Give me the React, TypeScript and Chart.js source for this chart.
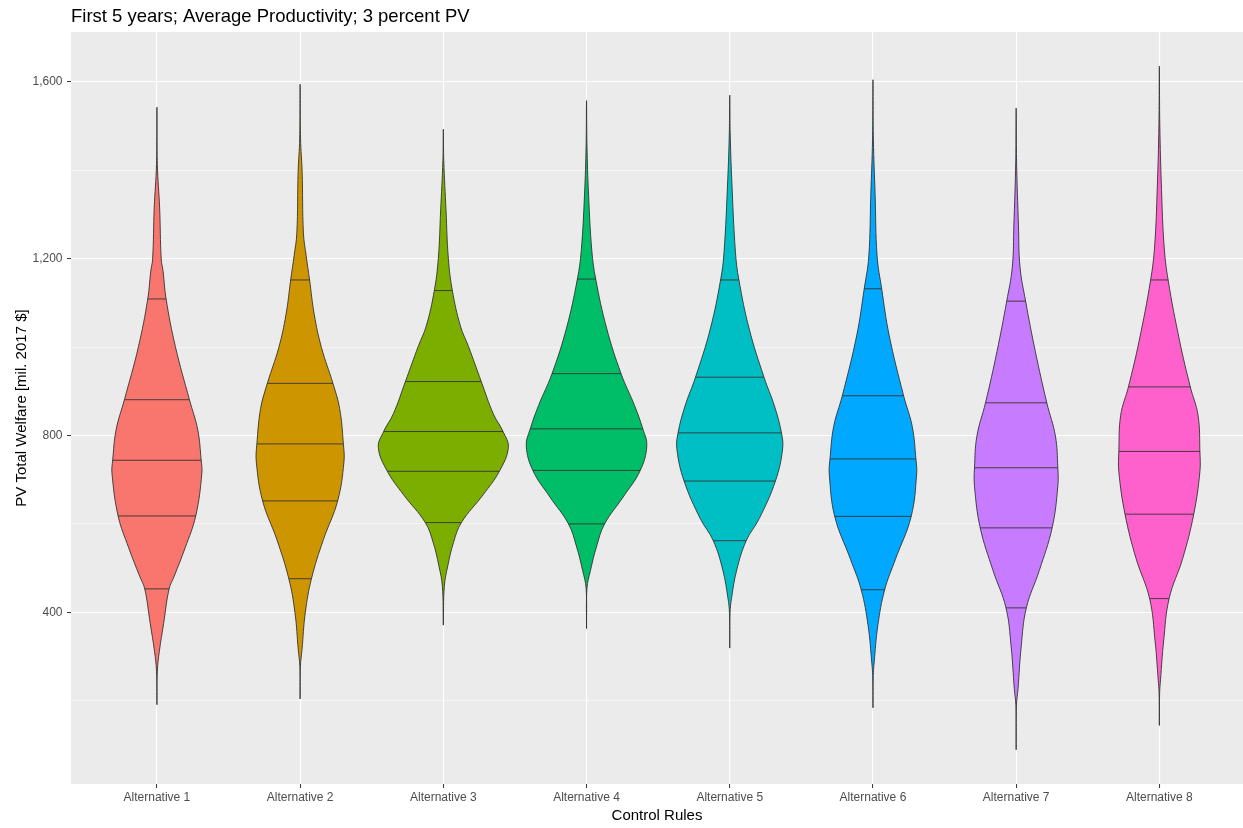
import React, { useEffect, useRef } from 'react';
import { Chart, registerables } from 'chart.js';

Chart.register(...registerables);

const categories = [
  'Alternative 1', 'Alternative 2', 'Alternative 3', 'Alternative 4',
  'Alternative 5', 'Alternative 6', 'Alternative 7', 'Alternative 8',
];

const fillColors = ['#F8766D', '#CD9600', '#7CAE00', '#00BE67', '#00BFC4', '#00A9FF', '#C77CFF', '#FF61CC'];

// Density outline of each violin: PV values (bottom to top) and half-widths (in category units)
const profileValues: number[][] = [
  [191, 267, 312, 375, 453, 482, 545, 618, 715, 744, 813, 881, 1001, 1109, 1172, 1199, 1315, 1413, 1543],
  [204, 278, 315, 399, 476, 565, 652, 740, 781, 861, 918, 999, 1073, 1152, 1207, 1258, 1397, 1471, 1595],
  [371, 459, 505, 558, 603, 666, 719, 773, 809, 849, 922, 1002, 1048, 1128, 1201, 1308, 1423, 1493],
  [363, 454, 494, 550, 600, 661, 721, 777, 815, 868, 940, 1043, 1154, 1218, 1346, 1457, 1558],
  [319, 398, 431, 496, 562, 612, 697, 769, 806, 867, 932, 1041, 1152, 1214, 1379, 1486, 1570],
  [184, 257, 285, 370, 451, 520, 617, 713, 747, 821, 890, 1027, 1132, 1206, 1346, 1469, 1605],
  [89, 189, 227, 322, 410, 494, 591, 685, 727, 799, 874, 990, 1104, 1181, 1276, 1419, 1541],
  [144, 218, 247, 335, 431, 522, 622, 718, 764, 846, 910, 1013, 1152, 1229, 1357, 1504, 1636],
];

const profileHalfWidths: number[][] = [
  [0, 0.003, 0.017, 0.047, 0.085, 0.121, 0.196, 0.271, 0.314, 0.309, 0.285, 0.227, 0.129, 0.064, 0.043, 0.030, 0.019, 0.003, 0],
  [0, 0.002, 0.013, 0.036, 0.079, 0.163, 0.262, 0.306, 0.302, 0.276, 0.229, 0.149, 0.099, 0.066, 0.042, 0.023, 0.014, 0.003, 0],
  [0, 0.007, 0.031, 0.071, 0.126, 0.278, 0.391, 0.454, 0.417, 0.349, 0.265, 0.175, 0.119, 0.063, 0.035, 0.019, 0.003, 0],
  [0, 0.003, 0.027, 0.071, 0.126, 0.256, 0.375, 0.421, 0.393, 0.335, 0.241, 0.140, 0.064, 0.037, 0.014, 0.003, 0],
  [0, 0.002, 0.012, 0.049, 0.115, 0.206, 0.319, 0.369, 0.361, 0.312, 0.239, 0.136, 0.064, 0.040, 0.014, 0.003, 0],
  [0, 0.002, 0.008, 0.034, 0.082, 0.157, 0.267, 0.305, 0.300, 0.274, 0.214, 0.113, 0.061, 0.029, 0.015, 0.003, 0],
  [0, 0.002, 0.013, 0.035, 0.071, 0.161, 0.251, 0.291, 0.291, 0.274, 0.214, 0.134, 0.066, 0.027, 0.016, 0.003, 0],
  [0, 0.002, 0.008, 0.030, 0.068, 0.163, 0.240, 0.283, 0.283, 0.270, 0.216, 0.142, 0.061, 0.033, 0.015, 0.003, 0],
];

// Quantile lines drawn across each violin
const quantileValues: number[][] = [
  [453, 618, 744, 881, 1109],
  [476, 652, 781, 918, 1152],
  [603, 719, 809, 922, 1128],
  [600, 721, 815, 940, 1154],
  [562, 697, 806, 932, 1152],
  [451, 617, 747, 890, 1132],
  [410, 591, 727, 874, 1104],
  [431, 622, 764, 910, 1152],
];

const quantileHalfWidths: number[][] = [
  [0.085, 0.271, 0.309, 0.227, 0.064],
  [0.079, 0.262, 0.302, 0.229, 0.066],
  [0.126, 0.391, 0.417, 0.265, 0.063],
  [0.126, 0.375, 0.393, 0.241, 0.064],
  [0.115, 0.319, 0.361, 0.239, 0.064],
  [0.082, 0.267, 0.300, 0.214, 0.061],
  [0.071, 0.251, 0.291, 0.214, 0.066],
  [0.068, 0.240, 0.283, 0.216, 0.061],
];

const yTickValues = [200, 400, 600, 800, 1000, 1200, 1400, 1600];
const yMajorStep = 400;

const titleText = 'First 5 years; Average Productivity; 3 percent PV';
const xTitle = 'Control Rules';
const yTitle = 'PV Total Welfare [mil. 2017 $]';

const FONT = '"Liberation Sans", Arial, Helvetica, sans-serif';

const panelPlugin = {
  id: 'panelBg',
  beforeDraw(chart: any) {
    const { ctx, chartArea: a, width, height } = chart;
    ctx.save();
    ctx.fillStyle = '#FFFFFF';
    ctx.fillRect(0, 0, width, height);
    ctx.fillStyle = '#EBEBEB';
    ctx.fillRect(a.left, a.top, a.right - a.left, a.bottom - a.top);
    ctx.restore();
  },
};

export default function App() {
  const canvasRef = useRef<HTMLCanvasElement | null>(null);

  useEffect(() => {
    if (!canvasRef.current) return;
    const datasets: any[] = [];
    categories.forEach((_, i) => {
      const cx = i + 1;
      const vals = profileValues[i];
      const ws = profileHalfWidths[i];
      const pts: { x: number; y: number }[] = [];
      for (let k = 0; k < vals.length; k++) pts.push({ x: cx + ws[k], y: vals[k] });
      for (let k = vals.length - 2; k >= 0; k--) pts.push({ x: cx - ws[k], y: vals[k] });
      datasets.push({
        data: pts,
        fill: 'shape',
        backgroundColor: fillColors[i],
        borderColor: '#333333',
        borderWidth: 0.9,
        pointRadius: 0,
        tension: 0.4,
        order: 2,
      });
      quantileValues[i].forEach((q, k) => {
        const hw = quantileHalfWidths[i][k];
        datasets.push({
          data: [
            { x: cx - hw, y: q },
            { x: cx + hw, y: q },
          ],
          fill: false,
          borderColor: '#333333',
          borderWidth: 0.9,
          pointRadius: 0,
          tension: 0,
          order: 1,
        });
      });
    });

    const chart = new Chart(canvasRef.current, {
      type: 'line',
      data: { datasets },
      plugins: [panelPlugin],
      options: {
        animation: false,
        responsive: false,
        devicePixelRatio: 1,
        layout: { padding: 0 },
        plugins: {
          legend: { display: false },
          tooltip: { enabled: false },
          title: {
            display: true,
            text: titleText,
            align: 'start',
            fullSize: false,
            color: '#000000',
            font: { family: FONT, size: 18.5, weight: 'normal', lineHeight: 1.2 },
            padding: { top: 6, bottom: 3.8 },
          },
        },
        scales: {
          x: {
            type: 'linear',
            min: 0.4,
            max: 8.584,
            afterBuildTicks: (scale: any) => {
              scale.ticks = categories.map((_, i) => ({ value: i + 1 }));
            },
            afterFit: (scale: any) => {
              scale.height = 44;
            },
            border: { display: false },
            grid: {
              color: '#FFFFFF',
              lineWidth: 1.1,
              tickColor: '#333333',
              tickLength: 4,
              tickWidth: 1,
            },
            ticks: {
              autoSkip: false,
              maxRotation: 0,
              minRotation: 0,
              padding: 2,
              color: '#4D4D4D',
              font: { family: FONT, size: 12 },
              callback: (v: any) => categories[Math.round(Number(v)) - 1] ?? '',
            },
            title: {
              display: true,
              text: xTitle,
              color: '#000000',
              font: { family: FONT, size: 15 },
              padding: { top: 0, bottom: 3 },
            },
          },
          y: {
            type: 'linear',
            min: 11.5,
            max: 1713,
            afterBuildTicks: (scale: any) => {
              scale.ticks = yTickValues.map((v) => ({ value: v }));
            },
            afterFit: (scale: any) => {
              scale.width = 71;
            },
            border: { display: false },
            grid: {
              color: '#FFFFFF',
              lineWidth: (ctx: any) => (ctx.tick && ctx.tick.value % yMajorStep === 0 ? 1.1 : 0.55),
              tickColor: (ctx: any) =>
                ctx.tick && ctx.tick.value % yMajorStep === 0 ? '#333333' : 'rgba(0,0,0,0)',
              tickLength: 4,
              tickWidth: 1,
            },
            ticks: {
              autoSkip: false,
              padding: 4.5,
              color: '#4D4D4D',
              font: { family: FONT, size: 12 },
              callback: (v: any) =>
                Number(v) % yMajorStep === 0 ? Number(v).toLocaleString('en-US') : '',
            },
            title: {
              display: true,
              text: yTitle,
              color: '#000000',
              font: { family: FONT, size: 15 },
              padding: { top: 13, bottom: 0 },
            },
          },
        },
      },
    } as any);

    return () => chart.destroy();
  }, []);

  return (
    <div style={{ position: 'absolute', left: 0, top: 0, width: 1243, height: 828, background: '#FFFFFF' }}>
      <canvas ref={canvasRef} width={1243} height={828} style={{ width: 1243, height: 828, display: 'block' }} />
    </div>
  );
}
